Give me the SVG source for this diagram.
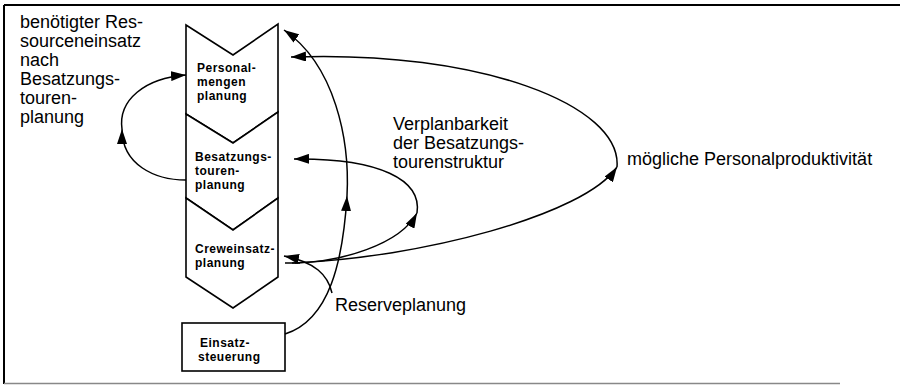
<svg xmlns="http://www.w3.org/2000/svg" width="900" height="385" viewBox="0 0 900 385">
<style>
.lbl{font-family:"Liberation Sans",Arial,sans-serif;font-size:18px;fill:#000}
.nd{font-family:"Liberation Sans",Arial,sans-serif;font-size:12px;font-weight:bold;letter-spacing:0.5px;fill:#000}
.sh{fill:#fff;stroke:#000;stroke-width:1.6;stroke-linejoin:miter}
.cn{fill:none;stroke:#000;stroke-width:1.5}
.ar{marker-end:url(#ah)}
</style>
<defs>
<marker id="ah" markerUnits="userSpaceOnUse" markerWidth="16" markerHeight="10" refX="15" refY="5" orient="auto">
<path d="M0,0 L15,5 L0,10 z" fill="#000"/>
</marker>
</defs>
<rect width="900" height="385" fill="#fff"/>
<g id="frame">
<line x1="4" y1="5" x2="900" y2="5" stroke="#000" stroke-width="2"/>
<line x1="4" y1="5" x2="4" y2="384" stroke="#000" stroke-width="2"/>
<line x1="4" y1="383.5" x2="840" y2="383.5" stroke="#888" stroke-width="1.5"/>
</g>
<g id="node-personalmengen">
<path class="sh" d="M186,25 L233,55 L278,24 L278,112 L233,143 L186,114 Z"/>
<text class="nd" x="197" y="72">Personal-</text>
<text class="nd" x="197" y="86">mengen</text>
<text class="nd" x="197" y="100">planung</text>
</g>
<g id="node-besatzungstouren">
<path class="sh" d="M186,114 L233,143 L278,112 L278,198 L233,230 L186,198 Z"/>
<text class="nd" x="195" y="161">Besatzungs-</text>
<text class="nd" x="195" y="175">touren-</text>
<text class="nd" x="195" y="189">planung</text>
</g>
<g id="node-creweinsatz">
<path class="sh" d="M186,198 L233,230 L278,198 L278,277 L233,308 L186,277 Z"/>
<text class="nd" x="195" y="253">Creweinsatz-</text>
<text class="nd" x="195" y="267">planung</text>
</g>
<g id="node-einsatzsteuerung">
<rect class="sh" x="182" y="323" width="103" height="48"/>
<text class="nd" x="200" y="347">Einsatz-</text>
<text class="nd" x="198" y="361">steuerung</text>
</g>
<g id="labels">
<text class="lbl" x="20" y="28">benötigter Res-</text>
<text class="lbl" x="20" y="47">sourceneinsatz</text>
<text class="lbl" x="20" y="66">nach</text>
<text class="lbl" x="20" y="85">Besatzungs-</text>
<text class="lbl" x="20" y="104">touren-</text>
<text class="lbl" x="20" y="123">planung</text>
<text class="lbl" x="393" y="130">Verplanbarkeit</text>
<text class="lbl" x="393" y="149">der Besatzungs-</text>
<text class="lbl" x="393" y="168">tourenstruktur</text>
<text class="lbl" x="627" y="165">mögliche Personalproduktivität</text>
<text class="lbl" x="335" y="311">Reserveplanung</text>
</g>
<g id="connectors">
<path class="cn ar" d="M186,180 C155,180 122,165 122,129"/>
<path class="cn ar" d="M122,129 C118,100 145,78 186,75"/>
<path class="cn ar" d="M285,334 C330,320 343,260 347,196"/>
<path class="cn ar" d="M347,196 C350,140 335,65 284,30"/>
<path class="cn ar" d="M292,263 C420,258 585,215 617,167"/>
<path class="cn ar" d="M617,167 C622,105 480,50 291,57"/>
<path class="cn ar" d="M295,263 C340,262 400,245 417,213"/>
<path class="cn ar" d="M417,213 C422,180 380,158 294,159"/>
<path class="cn ar" d="M332,293 C328,275 315,262 284,256"/>
<line class="cn" x1="285" y1="263" x2="300" y2="263"/>
</g>
</svg>
